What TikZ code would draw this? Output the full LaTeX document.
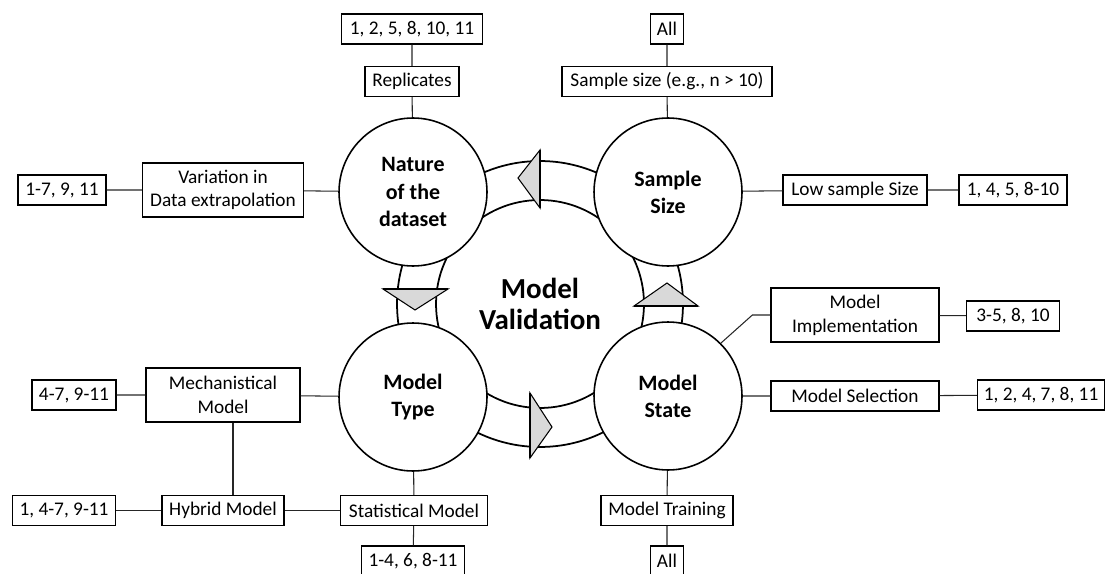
\documentclass[tikz,border=0pt]{standalone}
\usepackage{fontspec}
\setmainfont{Carlito}
\usetikzlibrary{
    % calc,
    positioning
}
\tikzset{
    every picture/.style = {
        x = 0.02cm,
        y = -0.02cm
    },
    topic/.style = {
        circle,
        draw,
        line width = 0.9pt,
        fill = white,
        minimum size = 2.96cm,
        inner sep = 0pt,
        align = center,
        font = \fontsize{12.5}{15.5}\selectfont\bfseries
    },
    item/.style = {
        draw,
        line width = 0.75pt,
        fill = white,
        minimum height = 0.6cm,
        inner xsep = 3pt,
        inner ysep = 2pt,
        align = center,
        font = \fontsize{11}{13.5}\selectfont
    },
    twoline/.style = {
        minimum height = 1.08cm
    },
    link/.style = {
        line width = 0.6pt,
        black!85
    },
    band/.style = {
        line width = 1pt
    },
    head/.style = {
        draw,
        line width = 0.6pt,
        fill = black!15,
        line join = miter
    },
    headbase/.style = {
        line width = 1.5pt
    }
}

\begin{document}
\begin{tikzpicture}
    \useasboundingbox (0, 0) rectangle (1108, 574);
    \draw[band] (540, 304) circle (2.86cm);
    \draw[band] (540, 304) circle (2.08cm);
    \filldraw[head] (540, 150) -- (518, 178) -- (540, 208) -- cycle;
    \draw[headbase] (540, 150) -- (540, 208);
    \filldraw[head] (383, 289) -- (415, 310) -- (448, 289) -- cycle;
    \draw[headbase] (383, 289) -- (448, 289);
    \filldraw[head] (530, 393) -- (552, 427) -- (530, 458) -- cycle;
    \draw[headbase] (530, 393) -- (530, 458);
    \filldraw[head] (634, 306) -- (667, 283) -- (698, 306) -- cycle;
    \draw[headbase] (634, 306) -- (698, 306);

    \node[topic] (nat) at (413, 192) {Nature\\of the\\dataset};
    \node[topic] (smp) at (668, 192) {Sample\\Size};
    \node[topic] (typ) at (413, 397) {Model\\Type};
    \node[topic] (sta) at (668, 396) {Model\\State};
    \node[align = center, font = \fontsize{16.5}{18}\selectfont\bfseries] (val) at (540, 304) {Model\\Validation};

    \node[item, minimum width = 2.82cm] (r1) at (412, 29) {1, 2, 5, 8, 10, 11};
    \node[item, minimum width = 1.88cm] (rep) at (412, 81.5) {Replicates};
    \node[item, minimum width = 0.66cm] (all1) at (667, 29) {All};
    \node[item, minimum width = 4.2cm] (ss) at (667, 81.5) {Sample size (e.g., n > 10)};
    \node[item, twoline, minimum width = 3.22cm] (var) at (223, 190) {Variation in\\Data extrapolation};
    \node[item, minimum width = 1.76cm] (r2) at (62, 190) {1-7, 9, 11};
    \node[item, minimum width = 2.88cm] (low) at (855, 190) {Low sample Size};
    \node[item, minimum width = 2.16cm] (r3) at (1013, 190) {1, 4, 5, 8-10};
    \node[item, twoline, minimum width = 3.36cm] (impl) at (855, 315) {Model\\Implementation};
    \node[item, minimum width = 1.86cm] (r4) at (1013, 316) {3-5, 8, 10};
    \node[item, minimum width = 3.36cm] (sel) at (855, 396) {Model Selection};
    \node[item, minimum width = 2.54cm] (r5) at (1041, 395) {1, 2, 4, 7, 8, 11};
    \node[item, minimum width = 2.64cm] (train) at (667, 510.5) {Model Training};
    \node[item, minimum width = 0.66cm] (all2) at (667, 561) {All};
    \node[item, minimum width = 2.94cm] (stat) at (414, 510.5) {Statistical Model};
    \node[item, minimum width = 2.06cm] (r6) at (413, 561) {1-4, 6, 8-11};
    \node[item, minimum width = 2.44cm] (hyb) at (223, 510.5) {Hybrid Model};
    \node[item, minimum width = 2.06cm] (r7) at (64, 510.5) {1, 4-7, 9-11};
    \node[item, twoline, minimum width = 3.08cm] (mech) at (223, 395) {Mechanistical\\Model};
    \node[item, minimum width = 1.68cm] (r8) at (74, 395) {4-7, 9-11};

    \draw[link] (r1) -- (rep) -- (nat);
    \draw[link] (all1) -- (ss) -- (smp);
    \draw[link] (r2) -- (var) -- (nat);
    \draw[link] (smp) -- (low) -- (r3);
    \draw[link] (impl.west) -- ++(-18, 0) -- (sta.45);
    \draw[link] (impl) -- (r4);
    \draw[link] (sta) -- (sel) -- (r5);
    \draw[link] (sta) -- (train) -- (all2);
    \draw[link] (typ) -- (stat) -- (r6);
    \draw[link] (r7) -- (hyb) -- (stat);
    \draw[link] ([xshift = 0.2cm]mech.south) -- ([xshift = 0.2cm]hyb.north);
    \draw[link] (r8) -- (mech) -- (typ);
\end{tikzpicture}
\end{document}
